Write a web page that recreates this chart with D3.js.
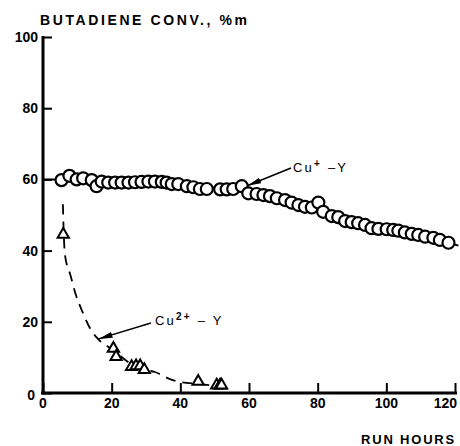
<!DOCTYPE html>
<html>
<head>
<meta charset="utf-8">
<script src="https://cdn.jsdelivr.net/npm/d3@7"></script>
<style>
  body { margin: 0; background: #fff; }
  svg { display: block; font-family: "Liberation Sans", "DejaVu Sans", sans-serif; }
</style>
</head>
<body>
<svg id="chart" width="460" height="446"></svg>
<script>
// Cu+ -Y series (run hours, butadiene conversion %m)
const cu1Hours = [5.4, 7.7, 9.8, 11.7, 14.2, 15.6, 17.1, 19.0, 21.0, 22.9, 24.9, 26.8, 28.7, 30.7, 32.6, 34.6, 36.0, 37.5, 39.4, 41.9, 43.8, 45.7, 47.7, 51.6, 53.5, 55.4, 57.9, 59.8, 62.2, 64.2, 66.1, 68.1, 70.5, 72.4, 74.4, 76.3, 78.3, 80.2, 81.6, 84.1, 86.0, 88.0, 89.9, 91.8, 93.8, 95.7, 97.7, 100.1, 102.0, 103.5, 105.4, 107.4, 109.3, 111.3, 113.7, 115.6, 118.1];
const cu1Values = [59.8, 61.0, 60.0, 60.3, 59.8, 58.1, 59.4, 59.1, 59.1, 59.1, 59.1, 59.2, 59.3, 59.4, 59.4, 59.3, 59.1, 58.7, 58.7, 58.1, 57.8, 57.3, 57.3, 57.2, 57.2, 57.3, 58.1, 56.1, 55.9, 55.6, 55.3, 54.7, 54.2, 53.5, 52.8, 52.3, 52.1, 53.5, 50.9, 49.7, 49.4, 48.3, 48.0, 47.7, 47.2, 46.3, 46.1, 46.0, 45.8, 45.6, 45.1, 44.7, 44.4, 43.9, 43.6, 43.0, 42.2];
// solid trend line drawn behind the circles
const cu1TrendHours = [0, 5.4, 20, 40, 55, 60, 80, 100, 118.1, 121];
const cu1TrendValues = [60, 60, 59.2, 58.6, 57.2, 56.2, 52.3, 46, 42.2, 41.4];

// Cu2+ -Y series
const cu2Hours = [5.9, 20.5, 21.3, 25.8, 27.1, 28.3, 29.5, 45.2, 50.6, 51.6, 52.0];
const cu2Values = [44.5, 12.5, 10.2, 7.4, 7.6, 7.6, 6.5, 3.2, 2.2, 2.2, 2.2];
// dashed decay curve
const cu2CurveHours = [5.8, 6.0, 6.4, 8.0, 9.5, 11.5, 13.8, 16.0, 20.4, 25.3, 29.7, 32.6, 37.0, 39.9, 45.7, 53.5];
const cu2CurveValues = [53, 46, 38.8, 33.1, 27.8, 22.8, 18.0, 15.2, 12.1, 8.4, 6.5, 5.9, 3.9, 3.1, 2.5, 1.7];

const xTicks = [0, 20, 40, 60, 80, 100, 120];
const yTicks = [0, 20, 40, 60, 80, 100];

const svg = d3.select('#chart');
const x = d3.scaleLinear().domain([0, 120]).range([43, 455]);
const y = d3.scaleLinear().domain([0, 100]).range([393, 37]);

// Axes
svg.append('g')
    .attr('transform', `translate(0, ${y(0)})`)
    .call(d3.axisTop(x).tickValues(xTicks).tickSize(10).tickFormat(''))
    .call(g => g.select('.domain').remove())
    .call(g => g.selectAll('line').attr('stroke', '#000').attr('stroke-width', 2));
svg.append('line')
    .attr('x1', 41).attr('x2', 457)
    .attr('y1', y(0)).attr('y2', y(0))
    .attr('stroke', '#000').attr('stroke-width', 3);
svg.append('g')
    .attr('transform', `translate(${x(0)}, 0)`)
    .call(d3.axisRight(y).tickValues(yTicks).tickSize(9).tickFormat(''))
    .call(g => g.select('.domain').remove())
    .call(g => g.selectAll('line').attr('stroke', '#000').attr('stroke-width', 2));
svg.append('line')
    .attr('x1', x(0)).attr('x2', x(0))
    .attr('y1', y(100) - 1).attr('y2', y(0) + 1.5)
    .attr('stroke', '#000').attr('stroke-width', 3);

// Tick labels
svg.append('g').selectAll('text')
    .data(xTicks)
    .join('text')
    .attr('x', d => d === 120 ? 457 : x(d))
    .attr('y', y(0) + 15)
    .attr('text-anchor', d => d === 120 ? 'end' : 'middle')
    .attr('font-size', 14)
    .attr('font-weight', 'bold')
    .text(d => d);
svg.append('g').selectAll('text')
    .data(yTicks)
    .join('text')
    .attr('x', d => d === 0 ? 35 : 38)
    .attr('y', d => y(d) + 5 + (d === 0 ? 2 : 0))
    .attr('text-anchor', 'end')
    .attr('font-size', 14)
    .attr('font-weight', 'bold')
    .text(d => d);

// Axis titles
svg.append('text')
    .attr('x', 40).attr('y', 25)
    .attr('font-size', 14)
    .attr('font-weight', 'bold')
    .attr('letter-spacing', 2.6)
    .text('BUTADIENE CONV., %m');
svg.append('text')
    .attr('x', 456).attr('y', 444)
    .attr('text-anchor', 'end')
    .attr('font-size', 13)
    .attr('font-weight', 'bold')
    .attr('letter-spacing', 1.8)
    .text('RUN HOURS');

// Cu+ -Y trend line and circles
const trend = cu1TrendHours.map((h, i) => [h, cu1TrendValues[i]]);
svg.append('path')
    .datum(trend)
    .attr('fill', 'none')
    .attr('stroke', '#000')
    .attr('stroke-width', 2)
    .attr('d', d3.line().x(d => x(d[0])).y(d => y(d[1])));
svg.append('g').selectAll('circle')
    .data(cu1Hours.map((h, i) => [h, cu1Values[i]]))
    .join('circle')
    .attr('cx', d => x(d[0]))
    .attr('cy', d => y(d[1]))
    .attr('r', 6)
    .attr('fill', '#fff')
    .attr('stroke', '#000')
    .attr('stroke-width', 2.2);

// Cu2+ -Y dashed curve and triangles
const curve = cu2CurveHours.map((h, i) => [h, cu2CurveValues[i]]);
svg.append('path')
    .datum(curve)
    .attr('fill', 'none')
    .attr('stroke', '#000')
    .attr('stroke-width', 1.8)
    .attr('stroke-dasharray', '10,7')
    .attr('d', d3.line().curve(d3.curveMonotoneX).x(d => x(d[0])).y(d => y(d[1])));
svg.append('g').selectAll('path')
    .data(cu2Hours.map((h, i) => [h, cu2Values[i]]))
    .join('path')
    .attr('transform', d => `translate(${x(d[0])}, ${y(d[1])})`)
    .attr('d', d3.symbol(d3.symbolTriangle, 55))
    .attr('fill', '#fff')
    .attr('stroke', '#000')
    .attr('stroke-width', 2);

// Annotations with arrows
svg.append('defs').append('marker')
    .attr('id', 'arrow')
    .attr('viewBox', '0 0 14 6')
    .attr('refX', 14).attr('refY', 3)
    .attr('markerWidth', 14).attr('markerHeight', 6)
    .attr('markerUnits', 'userSpaceOnUse')
    .attr('orient', 'auto')
    .append('path')
    .attr('d', 'M0,0 L14,3 L0,6 Z')
    .attr('fill', '#000');

function annotate(h, v, tx, ty) {
    svg.append('line')
        .attr('x1', tx).attr('y1', ty)
        .attr('x2', x(h)).attr('y2', y(v))
        .attr('stroke', '#000')
        .attr('stroke-width', 1.5)
        .attr('marker-end', 'url(#arrow)');
}
annotate(59.5, 58.2, 291, 168);
annotate(16.2, 15.2, 151, 323);

const lab1 = svg.append('text')
    .attr('x', 293).attr('y', 172)
    .attr('font-size', 13)
    .attr('letter-spacing', 2.2);
lab1.append('tspan').text('Cu');
lab1.append('tspan').attr('dy', -5).attr('font-size', 10).attr('font-weight', 'bold').text('+');
lab1.append('tspan').attr('dy', 5).text(' –Y');

const lab2 = svg.append('text')
    .attr('x', 155).attr('y', 325)
    .attr('font-size', 13)
    .attr('letter-spacing', 2.2);
lab2.append('tspan').text('Cu');
lab2.append('tspan').attr('dy', -5).attr('font-size', 10).attr('font-weight', 'bold').text('2+');
lab2.append('tspan').attr('dy', 5).text(' –  Y');
</script>
</body>
</html>
